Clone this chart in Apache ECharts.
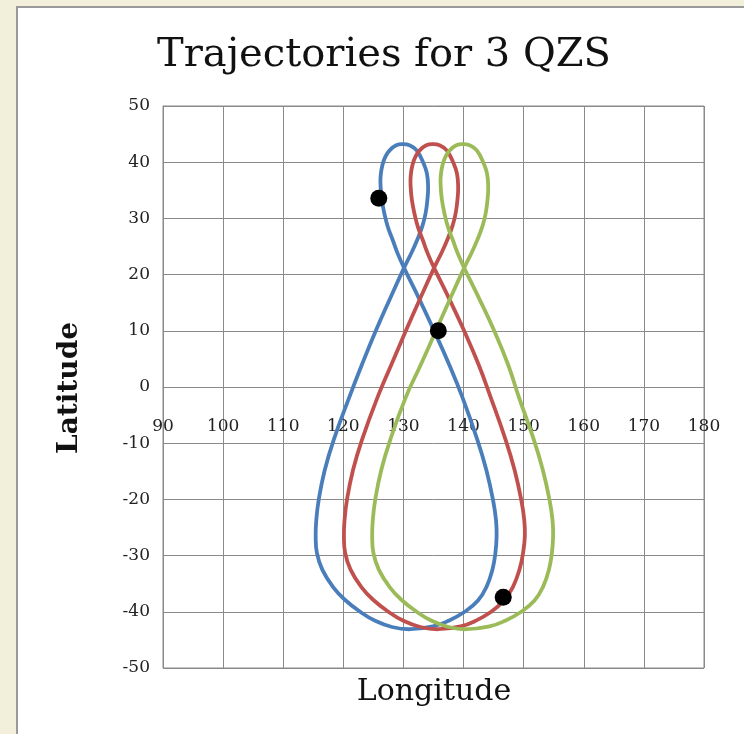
<!DOCTYPE html>
<html>
<head>
<meta charset="utf-8">
<script src="https://cdn.jsdelivr.net/npm/echarts@6/dist/echarts.min.js"></script>
<style>
html,body{margin:0;padding:0;background:#f2efda;}
#chart{width:744px;height:734px;}
</style>
</head>
<body>
<div id="chart"></div>
<script>
// ---- data (longitude, latitude) ----
var titleText = "Trajectories for 3 QZS";
var xName = "Longitude";
var yName = "Latitude";
var xTicks = [90, 100, 110, 120, 130, 140, 150, 160, 170, 180];
var yTicks = [-50, -40, -30, -20, -10, 0, 10, 20, 30, 40, 50];

var blueTrack = [
 [130.1,21.2],[131.3,23.8],[132.3,26.2],[133.2,28.8],[133.7,31.0],[134.0,33.5],[134.1,35.6],[133.9,38.0],
 [133.3,39.9],[132.2,42.1],[131.0,43.0],[129.9,43.2],[128.8,43.0],[127.7,42.1],[127.0,41.0],[126.5,39.5],
 [126.2,37.5],[126.2,35.6],[126.4,33.3],[126.8,31.0],[127.4,28.5],[128.2,26.2],[129.1,23.6],[130.1,21.2],
 [132.7,15.5],[135.1,10.0],[137.6,4.0],[139.8,-1.8],[142.3,-9.4],[143.8,-14.8],[144.9,-20.1],[145.4,-23.7],
 [145.5,-26.5],[145.3,-29.5],[144.8,-32.5],[143.8,-35.6],[142.4,-38.0],[140.2,-40.0],[137.5,-41.6],[134.9,-42.6],
 [131.1,-43.1],[128.1,-42.7],[125.3,-41.6],[122.8,-40.0],[120.3,-37.9],[118.3,-35.6],[116.5,-32.5],[115.6,-29.5],
 [115.4,-26.5],[115.5,-23.7],[115.9,-20.1],[116.9,-14.8],[118.4,-9.4],[121.0,-1.8],[123.1,4.0],[125.4,10.0],
 [127.8,15.8]
];
var redTrack = [
 [135.1,21.2],[136.3,23.8],[137.3,26.2],[138.2,28.8],[138.7,31.0],[139.0,33.5],[139.1,35.6],[138.9,38.0],
 [138.3,39.9],[137.2,42.1],[136.0,43.0],[134.9,43.2],[133.8,43.0],[132.7,42.1],[132.0,41.0],[131.5,39.5],
 [131.2,37.5],[131.2,35.6],[131.4,33.3],[131.8,31.0],[132.4,28.5],[133.2,26.2],[134.1,23.6],[135.1,21.2],
 [137.7,15.5],[140.1,10.0],[142.5,4.0],[144.5,-1.8],[147.0,-9.4],[148.5,-14.8],[149.6,-20.1],[150.1,-23.7],
 [150.2,-26.5],[149.9,-29.5],[149.3,-32.5],[148.2,-35.6],[146.7,-38.0],[144.6,-40.0],[142.0,-41.6],[139.5,-42.6],
 [135.8,-43.1],[132.8,-42.7],[130.0,-41.6],[127.5,-40.0],[125.0,-37.9],[123.0,-35.6],[121.2,-32.5],[120.3,-29.5],
 [120.1,-26.5],[120.2,-23.7],[120.6,-20.1],[121.6,-14.8],[123.1,-9.4],[125.7,-1.8],[128.0,4.0],[130.4,10.0],
 [132.8,15.8]
];
var greenTrack = [
 [140.1,21.2],[141.3,23.8],[142.3,26.2],[143.2,28.8],[143.7,31.0],[144.0,33.5],[144.1,35.6],[143.9,38.0],
 [143.3,39.9],[142.2,42.1],[141.0,43.0],[139.9,43.2],[138.8,43.0],[137.7,42.1],[137.0,41.0],[136.5,39.5],
 [136.2,37.5],[136.2,35.6],[136.4,33.3],[136.8,31.0],[137.4,28.5],[138.2,26.2],[139.1,23.6],[140.1,21.2],
 [142.7,15.5],[145.1,10.0],[147.4,4.0],[149.2,-1.8],[151.7,-9.4],[153.2,-14.8],[154.3,-20.1],[154.8,-23.7],
 [154.9,-26.5],[154.7,-29.5],[154.2,-32.5],[153.2,-35.6],[151.8,-38.0],[149.6,-40.0],[146.9,-41.6],[144.3,-42.6],
 [140.5,-43.1],[137.5,-42.7],[134.7,-41.6],[132.2,-40.0],[129.7,-37.9],[127.7,-35.6],[125.9,-32.5],[125.0,-29.5],
 [124.8,-26.5],[124.9,-23.7],[125.3,-20.1],[126.3,-14.8],[127.8,-9.4],[130.4,-1.8],[132.9,4.0],[135.4,10.0],
 [137.8,15.8]
];
var satellitePositions = [[125.9,33.6],[135.8,10.0],[146.6,-37.4]];

// ---- chart ----
var FONT = "'DejaVu Serif', 'Liberation Serif', serif";
var GRID_COLOR = '#8a8a8a';
var chart = echarts.init(document.getElementById('chart'), null, {renderer: 'canvas'});

// closed ground-track loop, drawn through the cartesian scale (api.coord)
function trackSeries(name, data, color) {
  return {
    name: name, type: 'custom', data: data,
    encode: {x: 0, y: 1},
    z: 3, animation: false, silent: true,
    renderItem: function (params, api) {
      if (params.dataIndex !== 0) return null;
      var pts = data.map(function (p) { return api.coord(p); });
      return {
        type: 'polygon',
        shape: {points: pts, smooth: 0.45},
        style: {fill: 'none', stroke: color, lineWidth: 3.8, lineJoin: 'round'}
      };
    }
  };
}

chart.setOption({
  backgroundColor: '#f2efda',
  animation: false,
  graphic: [
    {type: 'rect', z: -10, silent: true,
     shape: {x: 17, y: 7, width: 740, height: 740},
     style: {fill: '#ffffff', stroke: '#9a9a9a', lineWidth: 2}},
    {type: 'text', z: 10, silent: true, x: 384, y: 56,
     style: {text: titleText, font: "40px " + FONT, fill: '#111111', align: 'center', verticalAlign: 'middle'}},
    {type: 'text', z: 10, silent: true, x: 434, y: 692,
     style: {text: xName, font: "30px " + FONT, fill: '#111111', align: 'center', verticalAlign: 'middle'}},
    {type: 'text', z: 10, silent: true, x: 70, y: 388, rotation: Math.PI / 2,
     style: {text: yName, font: "bold 28px " + FONT, fill: '#111111', align: 'center', verticalAlign: 'middle'}}
  ],
  grid: {left: 163, top: 106, width: 541, height: 562, show: true, borderColor: GRID_COLOR, borderWidth: 1, backgroundColor: 'transparent', containLabel: false},
  xAxis: {
    type: 'value', min: xTicks[0], max: xTicks[xTicks.length - 1], interval: 10,
    position: 'bottom', offset: -281,
    axisLine: {show: true, onZero: false, lineStyle: {color: GRID_COLOR, width: 1}},
    axisTick: {show: false},
    axisLabel: {margin: 31, fontSize: 17, fontFamily: FONT, color: '#222222', showMinLabel: true, showMaxLabel: true},
    splitLine: {show: true, lineStyle: {color: GRID_COLOR, width: 1}}
  },
  yAxis: {
    type: 'value', min: yTicks[0], max: yTicks[yTicks.length - 1], interval: 10,
    axisLine: {show: true, onZero: false, lineStyle: {color: GRID_COLOR, width: 1}},
    axisTick: {show: false},
    axisLabel: {margin: 13, fontSize: 17, fontFamily: FONT, color: '#222222', showMinLabel: true, showMaxLabel: true},
    splitLine: {show: true, lineStyle: {color: GRID_COLOR, width: 1}}
  },
  series: [
    trackSeries('QZS-A', blueTrack, '#4a7ebb'),
    trackSeries('QZS-B', redTrack, '#c0504d'),
    trackSeries('QZS-C', greenTrack, '#9bbb59'),
    {name: 'Satellites', type: 'scatter', data: satellitePositions, symbol: 'circle', symbolSize: 17,
     itemStyle: {color: '#000000', opacity: 1}, z: 5, animation: false}
  ]
});
</script>
</body>
</html>
